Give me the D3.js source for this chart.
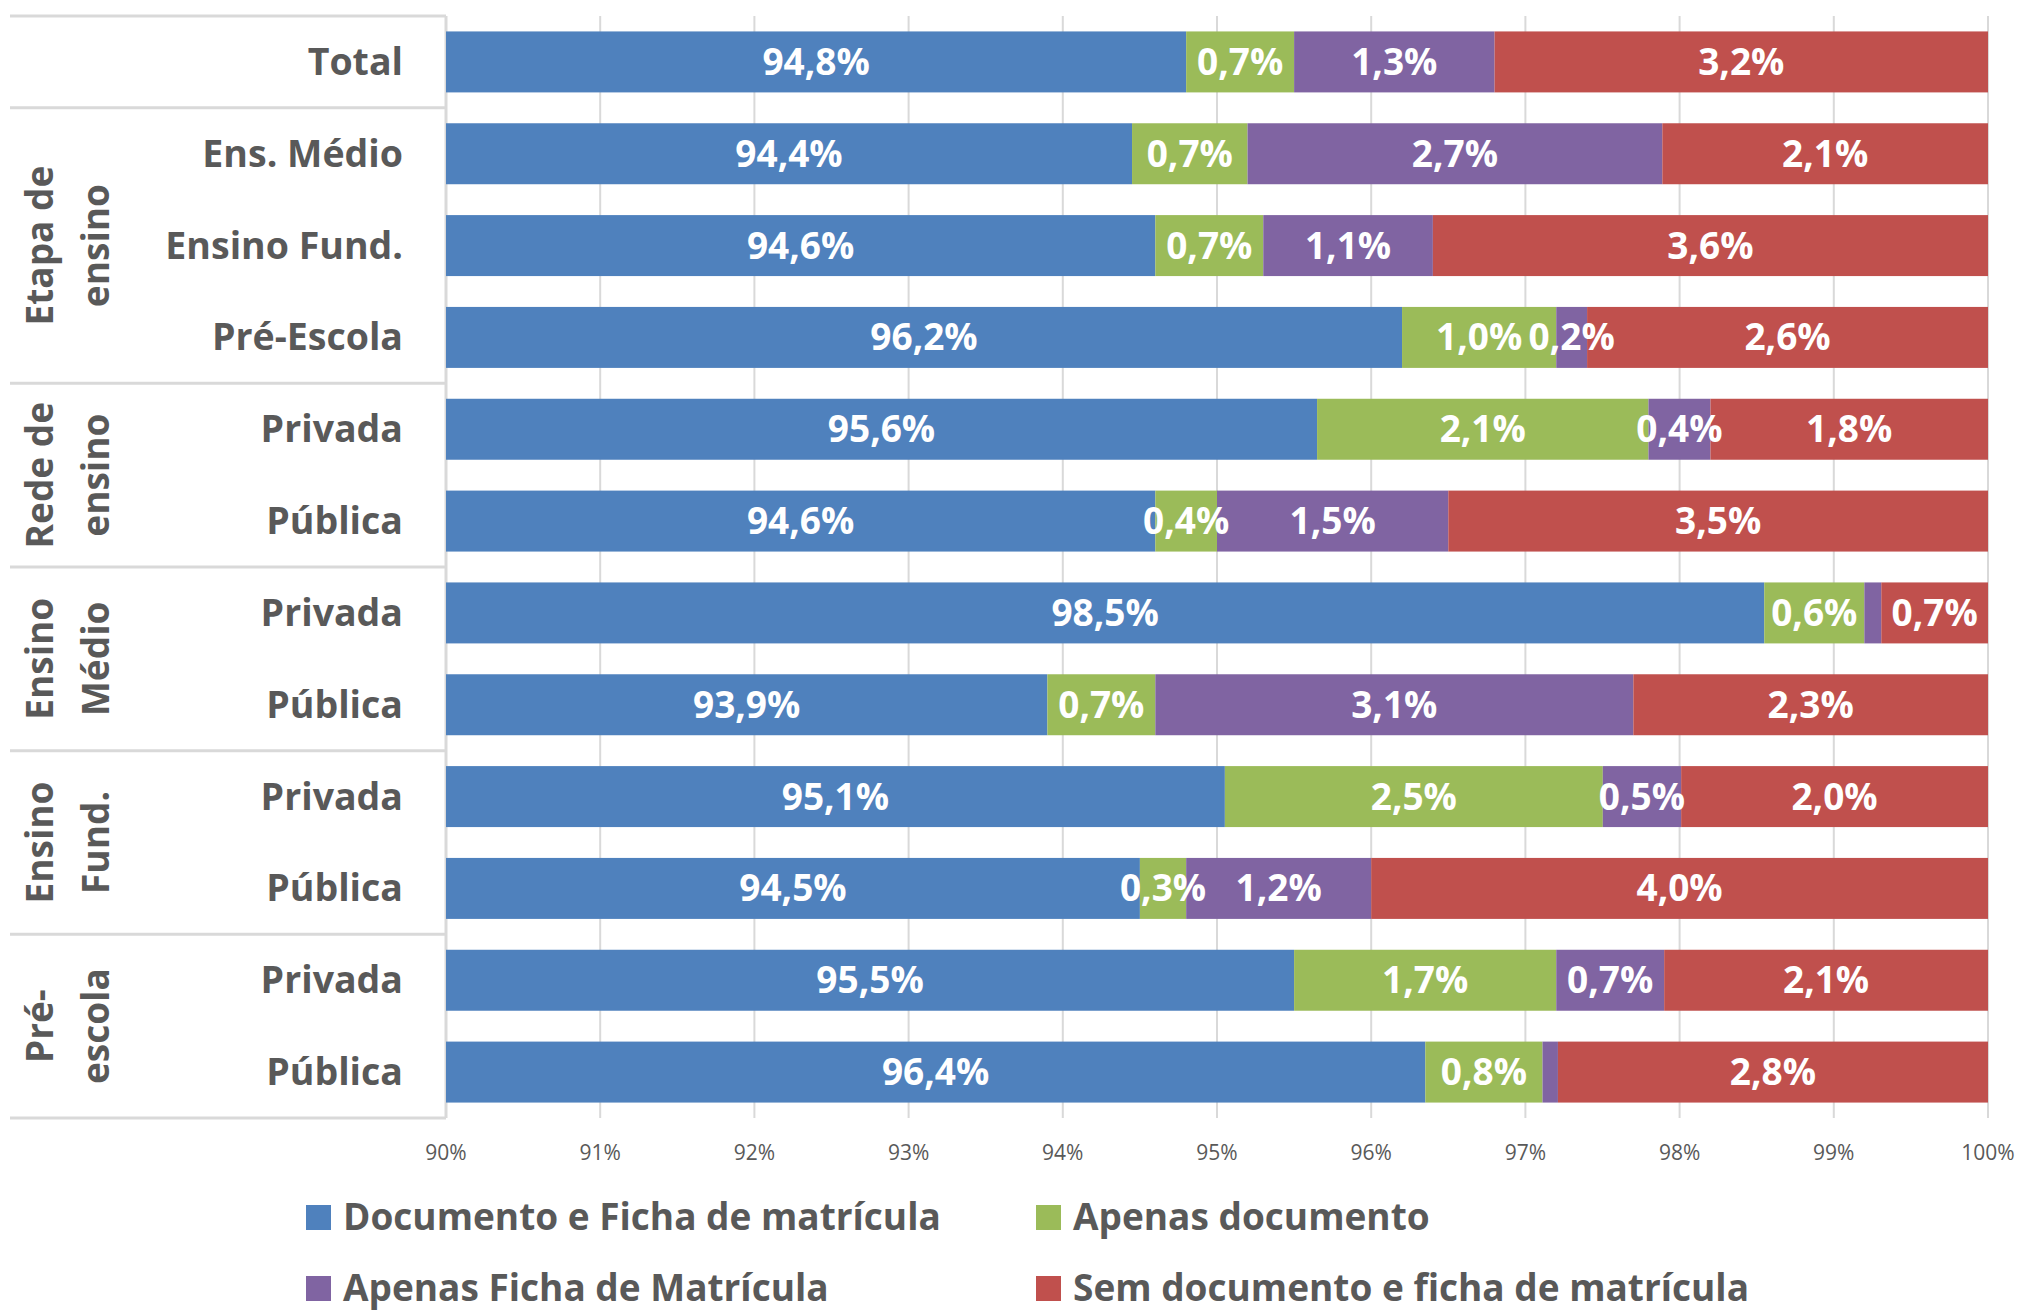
<!DOCTYPE html>
<html>
<head>
<meta charset="utf-8">
<script src="https://cdn.jsdelivr.net/npm/d3@7"></script>
<style>
  html, body { margin: 0; padding: 0; background: #fff; }
  svg { display: block; }
  text { font-family: "Open Sans", sans-serif; }
</style>
</head>
<body>
<svg id="chart" width="2039" height="1312"></svg>
<script>
// ---------- data ----------
const categories = ["Total", "Ens. Médio", "Ensino Fund.", "Pré-Escola", "Privada", "Pública",
                    "Privada", "Pública", "Privada", "Pública", "Privada", "Pública"];
const docFicha    = [94.8, 94.449, 94.6, 96.2, 95.649, 94.6, 98.549, 93.9, 95.051, 94.5, 95.5, 96.351];
const apenasDoc   = [0.7, 0.749, 0.7, 1.0, 2.149, 0.4, 0.649, 0.7, 2.451, 0.3, 1.7, 0.76];
const apenasFicha = [1.3, 2.69, 1.1, 0.2, 0.402, 1.5, 0.11, 3.1, 0.508, 1.2, 0.7, 0.1];
const semDoc      = [3.2, 2.112, 3.6, 2.6, 1.8, 3.5, 0.692, 2.3, 1.99, 4.0, 2.1, 2.789];
const seriesNames = ["Documento e Ficha de matrícula", "Apenas documento",
                     "Apenas Ficha de Matrícula", "Sem documento e ficha de matrícula"];
const seriesColors = ["#4F81BD", "#9BBB59", "#8064A2", "#C0504D"];
const groupNames = [["Etapa de", "ensino"], ["Rede de", "ensino"], ["Ensino", "Médio"],
                    ["Ensino", "Fund."], ["Pré-", "escola"]];
const groupRows  = [[1, 3], [4, 5], [6, 7], [8, 9], [10, 11]];
const tickValues = [90, 91, 92, 93, 94, 95, 96, 97, 98, 99, 100];

// ---------- layout ----------
const svg = d3.select("#chart");
const plotLeft = 446, plotRight = 1988, plotTop = 16, plotBottom = 1118;
const tableLeft = 10;
const grid = "#d9d9d9", textGray = "#595959";

const x = d3.scaleLinear().domain([90, 100]).range([plotLeft, plotRight]).clamp(true);
const rowIds = d3.range(categories.length);
const y = d3.scaleBand().domain(rowIds).range([plotTop, plotBottom]).paddingInner(0.336).paddingOuter(0.168);
const yRow = d3.scaleBand().domain(rowIds).range([plotTop, plotBottom]);

const series = [docFicha, apenasDoc, apenasFicha, semDoc];
const locale = d3.formatLocale({decimal: ",", thousands: ".", grouping: [3], currency: ["", ""]});
const fmt = locale.format(".1f");

// gridlines
svg.append("g").selectAll("line").data(tickValues).join("line")
  .attr("x1", d => x(d)).attr("x2", d => x(d))
  .attr("y1", plotTop).attr("y2", plotBottom)
  .attr("stroke", grid).attr("stroke-width", 2);

// tick labels
svg.append("g").selectAll("text").data(tickValues).join("text")
  .attr("x", d => x(d)).attr("y", 1160)
  .attr("text-anchor", "middle")
  .attr("font-size", 21).attr("fill", textGray)
  .text(d => d + "%");

// table lines (left)
const boundaries = [0, 1, 4, 6, 8, 10, 12];
svg.append("g").selectAll("line").data(boundaries).join("line")
  .attr("x1", tableLeft).attr("x2", plotLeft)
  .attr("y1", d => d < categories.length ? yRow(d) : plotBottom)
  .attr("y2", d => d < categories.length ? yRow(d) : plotBottom)
  .attr("stroke", grid).attr("stroke-width", 3);
svg.append("line")
  .attr("x1", plotLeft).attr("x2", plotLeft)
  .attr("y1", plotTop).attr("y2", plotBottom)
  .attr("stroke", grid).attr("stroke-width", 3);

// stacked bars
const segs = [];
rowIds.forEach(i => {
  let acc = 0;
  series.forEach((s, k) => {
    const v = s[i];
    const start = acc;
    acc = acc + v;
    segs.push({row: i, k, v, x0: k === 0 ? 0 : start, x1: acc});
  });
});
svg.append("g").selectAll("rect").data(segs).join("rect")
  .attr("x", d => x(d.x0))
  .attr("width", d => Math.max(0, x(d.x1) - x(d.x0)))
  .attr("y", d => y(d.row))
  .attr("height", y.bandwidth())
  .attr("fill", d => seriesColors[d.k]);

// data labels
svg.append("g").selectAll("text").data(segs.filter(d => d.v >= 0.15)).join("text")
  .attr("x", d => (x(d.x0) + x(d.x1)) / 2)
  .attr("y", d => y(d.row) + y.bandwidth() / 2 + 13)
  .attr("text-anchor", "middle")
  .attr("font-size", 37).attr("font-weight", 700).attr("fill", "#fff")
  .text(d => fmt(d.v) + "%");

// category labels
svg.append("g").selectAll("text").data(rowIds).join("text")
  .attr("x", 403)
  .attr("y", d => yRow(d) + yRow.bandwidth() / 2 + 13)
  .attr("text-anchor", "end")
  .attr("font-size", 37.5).attr("font-weight", 700).attr("fill", textGray)
  .text(d => categories[d]);

// group labels (rotated, two lines)
groupNames.forEach((lines, g) => {
  const [a, b] = groupRows[g];
  const cy = (yRow(a) + yRow(b) + yRow.bandwidth()) / 2;
  const baselines = [53, 109];
  lines.forEach((t, li) => {
    svg.append("text")
      .attr("transform", `translate(${baselines[li]},${cy}) rotate(-90)`)
      .attr("text-anchor", "middle")
      .attr("font-size", 37).attr("font-weight", 700).attr("fill", textGray)
      .text(t);
  });
});

// legend
const legendPos = [[306, 1217], [1036, 1217], [306, 1288], [1036, 1288]];
const legend = svg.append("g").selectAll("g").data(seriesNames).join("g")
  .attr("transform", (d, i) => `translate(${legendPos[i][0]},${legendPos[i][1]})`);
legend.append("rect").attr("x", 0).attr("y", -12).attr("width", 25).attr("height", 25)
  .attr("fill", (d, i) => seriesColors[i]);
legend.append("text").attr("x", 37).attr("y", 13)
  .attr("font-size", 37).attr("font-weight", 700).attr("fill", textGray)
  .text(d => d);
</script>
</body>
</html>
